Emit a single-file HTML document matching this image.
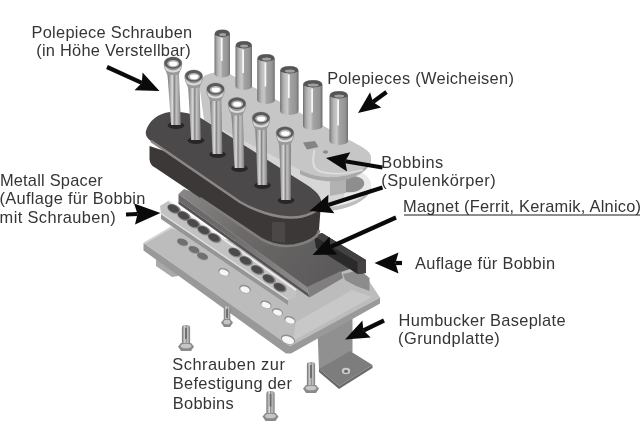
<!DOCTYPE html>
<html><head><meta charset="utf-8"><title>Humbucker</title>
<style>
html,body{margin:0;padding:0;background:#fff;}
body{width:640px;height:426px;overflow:hidden;font-family:"Liberation Sans",sans-serif;}
svg{display:block}
text{font-family:"Liberation Sans",sans-serif;font-size:16.4px;fill:#262626;}
</style></head><body>
<svg width="640" height="426" viewBox="0 0 640 426">
<defs>
<linearGradient id="gPole" x1="0" x2="1" y1="0" y2="0">
<stop offset="0" stop-color="#6c6c6c"/><stop offset="0.1" stop-color="#9a9a9a"/><stop offset="0.24" stop-color="#bababa"/><stop offset="0.4" stop-color="#c8c8c8"/><stop offset="0.52" stop-color="#a4a4a4"/><stop offset="0.85" stop-color="#949494"/><stop offset="1" stop-color="#707070"/>
</linearGradient>
<linearGradient id="gShaft" x1="0" x2="1" y1="0" y2="0">
<stop offset="0" stop-color="#6e6e6e"/><stop offset="0.22" stop-color="#b0b0b0"/><stop offset="0.38" stop-color="#dadada"/><stop offset="0.52" stop-color="#858585"/><stop offset="0.66" stop-color="#c2c2c2"/><stop offset="0.85" stop-color="#a0a0a0"/><stop offset="1" stop-color="#727272"/>
</linearGradient>
<linearGradient id="gMagTop" gradientUnits="userSpaceOnUse" x1="180" y1="190" x2="320" y2="285">
<stop offset="0" stop-color="#8a8787"/><stop offset="0.45" stop-color="#6c6969"/><stop offset="1" stop-color="#5c5a5a"/>
</linearGradient>
<linearGradient id="gMagFront" gradientUnits="userSpaceOnUse" x1="180" y1="200" x2="310" y2="292">
<stop offset="0" stop-color="#6a6868"/><stop offset="0.4" stop-color="#6e6c6c"/><stop offset="0.7" stop-color="#807e7e"/><stop offset="1" stop-color="#8e8c8c"/>
</linearGradient>
<filter id="soft" x="-5%" y="-5%" width="110%" height="110%"><feGaussianBlur stdDeviation="0.45"/></filter>
</defs>
<rect width="640" height="426" fill="#ffffff"/>
<g filter="url(#soft)">
<g id="baseplate">
<polygon points="317.5,330 352.5,318 352.5,352 319,370" fill="#909090"/>
<polygon points="319,369 350,351 372.5,365 339,386" fill="#7d7d7d"/>
<polygon points="319,369 339,386 339,389 319,372" fill="#666"/>
<polygon points="339,386 372.5,365 372.5,368 339,389" fill="#6c6c6c"/>
<ellipse cx="346" cy="371" rx="4.2" ry="3.2" fill="#c9c9c9"/><ellipse cx="346" cy="371.3" rx="2" ry="1.5" fill="#666"/>
<polygon points="156,256 178,270 178,276 172,277 156,266" fill="#a9a9a9"/>
<polygon points="143.5,243 143.5,250.5 286,353.5 291,353.5 380,303.5 380,297.5 290,345 Z" fill="#999999"/>
<path d="M143.5,243 L171,227 L180,229 L330,262 L365,275 L380,297.5 L290,346.5 Z" fill="#bcbcbc"/>
<path d="M144.5,243 L171,227.6 L180,229.5" stroke="#d6d6d6" stroke-width="2" fill="none"/>
<path d="M296,322 L352,290 L372,297 L293,341 Z" fill="#c8c8c8"/>
<ellipse cx="182.5" cy="242.8" rx="5.8" ry="3.4" fill="#a2a2a2" transform="rotate(20 182.5 242.8)"/>
<ellipse cx="182.5" cy="242.0" rx="5.6" ry="3.2" fill="#6f6f6f" transform="rotate(20 182.5 242.0)"/>
<ellipse cx="194.0" cy="250.3" rx="5.8" ry="3.4" fill="#a2a2a2" transform="rotate(20 194.0 250.3)"/>
<ellipse cx="194.0" cy="249.5" rx="5.6" ry="3.2" fill="#6f6f6f" transform="rotate(20 194.0 249.5)"/>
<ellipse cx="202.5" cy="256.8" rx="5.8" ry="3.4" fill="#a2a2a2" transform="rotate(20 202.5 256.8)"/>
<ellipse cx="202.5" cy="256.0" rx="5.6" ry="3.2" fill="#6f6f6f" transform="rotate(20 202.5 256.0)"/>
<ellipse cx="224.0" cy="272.0" rx="5.8" ry="3.8" fill="#8e8e8e" transform="rotate(20 224.0 272.0)"/>
<ellipse cx="224.0" cy="272.6" rx="4.8" ry="2.8" fill="#f6f6f6" transform="rotate(20 224.0 272.6)"/>
<ellipse cx="245.0" cy="289.0" rx="6.0" ry="4.0" fill="#8e8e8e" transform="rotate(20 245.0 289.0)"/>
<ellipse cx="245.0" cy="289.6" rx="5.0" ry="3.0" fill="#f6f6f6" transform="rotate(20 245.0 289.6)"/>
<ellipse cx="266.0" cy="304.5" rx="5.8" ry="3.8" fill="#8e8e8e" transform="rotate(20 266.0 304.5)"/>
<ellipse cx="266.0" cy="305.1" rx="4.8" ry="2.8" fill="#f6f6f6" transform="rotate(20 266.0 305.1)"/>
<ellipse cx="277.5" cy="312.0" rx="5.6" ry="3.7" fill="#8e8e8e" transform="rotate(20 277.5 312.0)"/>
<ellipse cx="277.5" cy="312.6" rx="4.6" ry="2.7" fill="#f6f6f6" transform="rotate(20 277.5 312.6)"/>
<ellipse cx="290.0" cy="320.0" rx="5.8" ry="3.8" fill="#8e8e8e" transform="rotate(20 290.0 320.0)"/>
<ellipse cx="290.0" cy="320.6" rx="4.8" ry="2.8" fill="#f6f6f6" transform="rotate(20 290.0 320.6)"/>
<ellipse cx="288.0" cy="339.5" rx="7.4" ry="4.6" fill="#8e8e8e" transform="rotate(20 288.0 339.5)"/>
<ellipse cx="288.0" cy="340.1" rx="6.4" ry="3.6" fill="#f6f6f6" transform="rotate(20 288.0 340.1)"/>
</g>
<g id="bars">
<polygon points="178.5,194 184,189 330,240 353,268 341,272 308,288" fill="url(#gMagTop)"/>
<polygon points="178.5,194 307,287 308.2,293.5 178.5,200.5" fill="url(#gMagFront)"/>
<polygon points="178.5,200.5 308.2,293.5 309.5,297.5 178.5,204" fill="#545252"/>
<polygon points="307,287 341,271 343,278 309.5,297.5" fill="#807e7e"/>
<polygon points="343,274 360,270 369.5,278 369.5,291 356,286 345,280" fill="#8c8c8c"/>
<polygon points="314,236 322,233 366,260 366,273 357.5,274 316,248" fill="#2b2929"/>
<polygon points="314,236 322,233 366,260 357.5,262" fill="#434040"/>
<polygon points="357.5,262 366,260 366,273 357.5,274" fill="#454343"/>
<polygon points="160,206 169,200.5 296,290 296,297 288,300 161,214" fill="#c2c2c2"/>
<polygon points="161,214 288,300 288,305 161,219" fill="#959595"/>
<path d="M169,201 L296,290" stroke="#ececec" stroke-width="1.8"/>
<path d="M161,213.5 L288,299.5" stroke="#dedede" stroke-width="1.5"/>
<ellipse cx="174.0" cy="209.0" rx="7.2" ry="4.4" fill="#858383" transform="rotate(25 174.0 209.0)"/>
<ellipse cx="173.5" cy="208.6" rx="6.0" ry="3.4" fill="#4c4a4a" transform="rotate(25 173.5 208.6)"/>
<ellipse cx="184.0" cy="216.0" rx="7.2" ry="4.4" fill="#858383" transform="rotate(25 184.0 216.0)"/>
<ellipse cx="183.5" cy="215.6" rx="6.0" ry="3.4" fill="#4c4a4a" transform="rotate(25 183.5 215.6)"/>
<ellipse cx="193.5" cy="223.5" rx="7.2" ry="4.4" fill="#858383" transform="rotate(25 193.5 223.5)"/>
<ellipse cx="193.0" cy="223.1" rx="6.0" ry="3.4" fill="#4c4a4a" transform="rotate(25 193.0 223.1)"/>
<ellipse cx="204.0" cy="230.5" rx="7.2" ry="4.4" fill="#858383" transform="rotate(25 204.0 230.5)"/>
<ellipse cx="203.5" cy="230.1" rx="6.0" ry="3.4" fill="#4c4a4a" transform="rotate(25 203.5 230.1)"/>
<ellipse cx="214.5" cy="238.0" rx="7.2" ry="4.4" fill="#858383" transform="rotate(25 214.5 238.0)"/>
<ellipse cx="214.0" cy="237.6" rx="6.0" ry="3.4" fill="#4c4a4a" transform="rotate(25 214.0 237.6)"/>
<ellipse cx="235.0" cy="252.5" rx="7.2" ry="4.4" fill="#858383" transform="rotate(25 235.0 252.5)"/>
<ellipse cx="234.5" cy="252.1" rx="6.0" ry="3.4" fill="#4c4a4a" transform="rotate(25 234.5 252.1)"/>
<ellipse cx="246.0" cy="261.0" rx="7.2" ry="4.4" fill="#858383" transform="rotate(25 246.0 261.0)"/>
<ellipse cx="245.5" cy="260.6" rx="6.0" ry="3.4" fill="#4c4a4a" transform="rotate(25 245.5 260.6)"/>
<ellipse cx="257.5" cy="270.0" rx="7.2" ry="4.4" fill="#858383" transform="rotate(25 257.5 270.0)"/>
<ellipse cx="257.0" cy="269.6" rx="6.0" ry="3.4" fill="#4c4a4a" transform="rotate(25 257.0 269.6)"/>
<ellipse cx="269.0" cy="279.0" rx="7.2" ry="4.4" fill="#858383" transform="rotate(25 269.0 279.0)"/>
<ellipse cx="268.5" cy="278.6" rx="6.0" ry="3.4" fill="#4c4a4a" transform="rotate(25 268.5 278.6)"/>
<ellipse cx="280.0" cy="287.5" rx="7.2" ry="4.4" fill="#858383" transform="rotate(25 280.0 287.5)"/>
<ellipse cx="279.5" cy="287.1" rx="6.0" ry="3.4" fill="#4c4a4a" transform="rotate(25 279.5 287.1)"/>
</g>
<g id="lightbobbin">
<path d="M300,172 L360,172 C369,176 372,182 371,187 C368,197 352,203 338,206 L300,212 Z" fill="#e9e9e9"/>
<path d="M330,207 C348,205 367,198 371,187 L371,190 C367,201 348,209 330,211 Z" fill="#bdbdbd"/>
<path d="M200,118 L300,168 L344,176 L344,200 L300,210 L200,140 Z" fill="#d6d6d6"/>
<path d="M344,176 C356,175 366,178 364,185 C361,192 352,193 344,192 Z" fill="#8e8e8e"/>
<path d="M330,176 L346,176 L346,193 L330,196 Z" fill="#b2b2b2"/>
<path d="M199,83 C201,75 212,70.5 228,73 L348,139.5 C361,146 371,151 371,157 C371,166 356,175 338,177 C325,178 312,176 300,170 L204,120 Z" fill="#c6c6c6"/>
<path d="M300,170 C312,176 325,178 338,177 C356,175 371,166 371,157 L371,160 C370,170 356,179 338,181 C325,182 312,180 300,174 Z" fill="#a9a9a9"/>
<path d="M314.5,150 C313,158 312,165 316,169 C322,174 340,176 363,170" stroke="#dedede" stroke-width="1.8" fill="none"/>
<polygon points="303,142.5 315,141 318.5,147 307,149.5" fill="#848484"/>
<ellipse cx="325.5" cy="152" rx="2.6" ry="1.7" fill="#8c8c8c"/>
</g>
<g id="poles">
<path d="M214.5,34.5 Q214.5,29.5 222.2,29.5 Q230.0,29.5 230.0,34.5 L230.0,73.5 Q230.0,77.0 222.2,77.5 Q214.5,77.0 214.5,73.5 Z" fill="url(#gPole)"/>
<path d="M214.8,35.0 Q214.8,29.8 222.2,29.8 Q229.7,29.8 229.7,35.0 Q222.2,39.0 214.8,35.0 Z" fill="#545454"/>
<ellipse cx="222.8" cy="34.5" rx="3.5" ry="1.5" fill="#a0a0a0"/>
<rect x="220.8" y="38.0" width="1.8" height="23.0" fill="#fafafa" opacity="0.95"/>
<path d="M235.5,46.0 Q235.5,41.0 243.8,41.0 Q252.0,41.0 252.0,46.0 L252.0,86.0 Q252.0,89.5 243.8,90.0 Q235.5,89.5 235.5,86.0 Z" fill="url(#gPole)"/>
<path d="M235.8,46.5 Q235.8,41.3 243.8,41.3 Q251.7,41.3 251.7,46.5 Q243.8,50.5 235.8,46.5 Z" fill="#545454"/>
<ellipse cx="244.2" cy="46.0" rx="4.0" ry="1.5" fill="#a0a0a0"/>
<rect x="242.2" y="49.5" width="1.8" height="23.5" fill="#fafafa" opacity="0.95"/>
<path d="M257.2,59.0 Q257.2,54.0 266.0,54.0 Q274.8,54.0 274.8,59.0 L274.8,100.0 Q274.8,103.5 266.0,104.0 Q257.2,103.5 257.2,100.0 Z" fill="url(#gPole)"/>
<path d="M257.6,59.5 Q257.6,54.3 266.0,54.3 Q274.4,54.3 274.4,59.5 Q266.0,63.5 257.6,59.5 Z" fill="#545454"/>
<ellipse cx="266.5" cy="59.0" rx="4.5" ry="1.5" fill="#a0a0a0"/>
<rect x="264.5" y="62.5" width="1.8" height="24.0" fill="#fafafa" opacity="0.95"/>
<path d="M280.1,71.0 Q280.1,66.0 289.4,66.0 Q298.6,66.0 298.6,71.0 L298.6,111.0 Q298.6,114.5 289.4,115.0 Q280.1,114.5 280.1,111.0 Z" fill="url(#gPole)"/>
<path d="M280.4,71.5 Q280.4,66.3 289.4,66.3 Q298.3,66.3 298.3,71.5 Q289.4,75.5 280.4,71.5 Z" fill="#545454"/>
<ellipse cx="289.9" cy="71.0" rx="5.0" ry="1.5" fill="#a0a0a0"/>
<rect x="287.9" y="74.5" width="1.8" height="23.5" fill="#fafafa" opacity="0.95"/>
<path d="M303.0,85.0 Q303.0,80.0 312.8,80.0 Q322.5,80.0 322.5,85.0 L322.5,126.0 Q322.5,129.5 312.8,130.0 Q303.0,129.5 303.0,126.0 Z" fill="url(#gPole)"/>
<path d="M303.3,85.5 Q303.3,80.3 312.8,80.3 Q322.2,80.3 322.2,85.5 Q312.8,89.5 303.3,85.5 Z" fill="#545454"/>
<ellipse cx="313.2" cy="85.0" rx="5.5" ry="1.5" fill="#a0a0a0"/>
<rect x="311.2" y="88.5" width="1.8" height="24.0" fill="#fafafa" opacity="0.95"/>
<path d="M329.5,96.0 Q329.5,91.0 338.8,91.0 Q348.0,91.0 348.0,96.0 L348.0,141.0 Q348.0,144.5 338.8,145.0 Q329.5,144.5 329.5,141.0 Z" fill="url(#gPole)"/>
<path d="M329.8,96.5 Q329.8,91.3 338.8,91.3 Q347.7,91.3 347.7,96.5 Q338.8,100.5 329.8,96.5 Z" fill="#545454"/>
<ellipse cx="339.2" cy="96.0" rx="5.0" ry="1.5" fill="#a0a0a0"/>
<rect x="337.2" y="99.5" width="1.8" height="26.0" fill="#fafafa" opacity="0.95"/>
</g>
<g id="darkbobbin">
<path d="M149.5,146 L149.5,159 C150,164 152,166 155,167.5 L262,239.5 C272,245 282,247 294,245.5 C308,243 319,237 319,230 L321,203 Z" fill="#3d3939"/>
<path d="M200,198 L262,239.5 C272,245 282,247 294,245.5 C308,243 319,237 319,230" stroke="#827e7e" stroke-width="2.6" fill="none"/>
<polygon points="272,222 285,222 285,243 272,241" fill="#4b4747"/>
<path d="M146,131 C148,122 158,113 170,112 C185,111 196,115 204,120 L307,185 C316,191 322,197 321,203 C320,211 306,218 290,217.5 C275,217 255,211 240,202 L151,141 C147,138 145,135 146,131 Z" fill="#4c4848"/>
<path d="M151,141 L240,202 C255,211 275,217 290,217.5 C306,218 320,211 321,203" stroke="#8b8787" stroke-width="2.6" fill="none"/>
</g>
<g id="screws">
<ellipse cx="176.0" cy="125.5" rx="8.3" ry="3.4" fill="#2b2828"/>
<path d="M167.2,70.0 L171.1,125.0 L180.9,125.0 L178.8,70.0 Z" fill="url(#gShaft)"/>
<path d="M163.8,63.5 C163.8,54.5 182.2,54.5 182.2,63.5 C182.2,69.0 179.8,71.0 178.8,75.0 L167.2,75.0 C166.2,71.0 163.8,69.0 163.8,63.5 Z" fill="#9a9a9a"/>
<path d="M164.6,66.0 Q173.0,75.0 181.4,66.0 L179.8,70.5 Q173.0,74.5 166.2,70.5 Z" fill="#dcdcdc"/>
<ellipse cx="173.0" cy="62.9" rx="8.7" ry="5.9" fill="#5a5a5a"/>
<ellipse cx="173.2" cy="63.6" rx="6.0" ry="3.7" fill="#b4b4b4"/>
<ellipse cx="173.3" cy="63.8" rx="4.2" ry="2.4" fill="#ffffff"/>
<ellipse cx="196.0" cy="140.5" rx="8.3" ry="3.4" fill="#2b2828"/>
<path d="M188.0,83.0 L191.1,140.0 L200.9,140.0 L199.5,83.0 Z" fill="url(#gShaft)"/>
<path d="M184.5,76.5 C184.5,67.5 203.0,67.5 203.0,76.5 C203.0,82.0 200.5,84.0 199.5,88.0 L188.0,88.0 C187.0,84.0 184.5,82.0 184.5,76.5 Z" fill="#9a9a9a"/>
<path d="M185.3,79.0 Q193.8,88.0 202.2,79.0 L200.5,83.5 Q193.8,87.5 187.0,83.5 Z" fill="#dcdcdc"/>
<ellipse cx="193.8" cy="75.9" rx="8.7" ry="5.9" fill="#5a5a5a"/>
<ellipse cx="193.9" cy="76.6" rx="6.0" ry="3.7" fill="#b4b4b4"/>
<ellipse cx="194.1" cy="76.8" rx="4.2" ry="2.4" fill="#ffffff"/>
<ellipse cx="217.5" cy="154.5" rx="8.3" ry="3.4" fill="#2b2828"/>
<path d="M209.8,96.0 L212.6,154.0 L222.4,154.0 L221.2,96.0 Z" fill="url(#gShaft)"/>
<path d="M206.2,89.5 C206.2,80.5 224.8,80.5 224.8,89.5 C224.8,95.0 222.2,97.0 221.2,101.0 L209.8,101.0 C208.8,97.0 206.2,95.0 206.2,89.5 Z" fill="#9a9a9a"/>
<path d="M207.1,92.0 Q215.5,101.0 223.9,92.0 L222.2,96.5 Q215.5,100.5 208.8,96.5 Z" fill="#dcdcdc"/>
<ellipse cx="215.5" cy="88.9" rx="8.7" ry="5.9" fill="#5a5a5a"/>
<ellipse cx="215.7" cy="89.6" rx="6.0" ry="3.7" fill="#b4b4b4"/>
<ellipse cx="215.8" cy="89.8" rx="4.2" ry="2.4" fill="#ffffff"/>
<ellipse cx="239.5" cy="168.5" rx="8.3" ry="3.4" fill="#2b2828"/>
<path d="M231.2,110.5 L234.6,168.0 L244.4,168.0 L242.8,110.5 Z" fill="url(#gShaft)"/>
<path d="M227.8,104.0 C227.8,95.0 246.2,95.0 246.2,104.0 C246.2,109.5 243.8,111.5 242.8,115.5 L231.2,115.5 C230.2,111.5 227.8,109.5 227.8,104.0 Z" fill="#9a9a9a"/>
<path d="M228.6,106.5 Q237.0,115.5 245.4,106.5 L243.8,111.0 Q237.0,115.0 230.2,111.0 Z" fill="#dcdcdc"/>
<ellipse cx="237.0" cy="103.4" rx="8.7" ry="5.9" fill="#5a5a5a"/>
<ellipse cx="237.2" cy="104.1" rx="6.0" ry="3.7" fill="#b4b4b4"/>
<ellipse cx="237.3" cy="104.3" rx="4.2" ry="2.4" fill="#ffffff"/>
<ellipse cx="262.5" cy="185.5" rx="8.3" ry="3.4" fill="#2b2828"/>
<path d="M255.2,125.0 L257.6,185.0 L267.4,185.0 L266.8,125.0 Z" fill="url(#gShaft)"/>
<path d="M251.8,118.5 C251.8,109.5 270.2,109.5 270.2,118.5 C270.2,124.0 267.8,126.0 266.8,130.0 L255.2,130.0 C254.2,126.0 251.8,124.0 251.8,118.5 Z" fill="#9a9a9a"/>
<path d="M252.6,121.0 Q261.0,130.0 269.4,121.0 L267.8,125.5 Q261.0,129.5 254.2,125.5 Z" fill="#dcdcdc"/>
<ellipse cx="261.0" cy="117.9" rx="8.7" ry="5.9" fill="#5a5a5a"/>
<ellipse cx="261.2" cy="118.6" rx="6.0" ry="3.7" fill="#b4b4b4"/>
<ellipse cx="261.3" cy="118.8" rx="4.2" ry="2.4" fill="#ffffff"/>
<ellipse cx="286.0" cy="200.5" rx="8.3" ry="3.4" fill="#2b2828"/>
<path d="M279.2,139.8 L281.1,200.0 L290.9,200.0 L290.8,139.8 Z" fill="url(#gShaft)"/>
<path d="M275.8,133.2 C275.8,124.2 294.2,124.2 294.2,133.2 C294.2,138.8 291.8,140.8 290.8,144.8 L279.2,144.8 C278.2,140.8 275.8,138.8 275.8,133.2 Z" fill="#9a9a9a"/>
<path d="M276.6,135.8 Q285.0,144.8 293.4,135.8 L291.8,140.2 Q285.0,144.2 278.2,140.2 Z" fill="#dcdcdc"/>
<ellipse cx="285.0" cy="132.7" rx="8.7" ry="5.9" fill="#5a5a5a"/>
<ellipse cx="285.2" cy="133.3" rx="6.0" ry="3.7" fill="#b4b4b4"/>
<ellipse cx="285.3" cy="133.6" rx="4.2" ry="2.4" fill="#ffffff"/>
</g>
<g id="smallscrews">
<rect x="181.9" y="325.0" width="8.2" height="21.0" rx="3" fill="url(#gShaft)"/>
<rect x="185.1" y="328.0" width="1.8" height="10.9" fill="#6a6a6a"/>
<path d="M178.0,346.5 L181.0,343.0 L191.0,343.0 L194.0,346.5 L191.0,351.0 L181.0,351.0 Z" fill="#8a8a8a"/>
<ellipse cx="186.0" cy="346.0" rx="5.5" ry="2.3" fill="#c6c6c6"/>
<rect x="223.8" y="306.0" width="6.5" height="16.0" rx="3" fill="url(#gShaft)"/>
<rect x="226.1" y="309.0" width="1.8" height="8.8" fill="#6a6a6a"/>
<path d="M221.0,322.5 L224.0,319.0 L230.0,319.0 L233.0,322.5 L230.0,327.0 L224.0,327.0 Z" fill="#8a8a8a"/>
<ellipse cx="227.0" cy="322.0" rx="3.5" ry="2.3" fill="#c6c6c6"/>
<rect x="306.9" y="362.0" width="8.2" height="26.0" rx="3" fill="url(#gShaft)"/>
<rect x="310.1" y="365.0" width="1.8" height="13.0" fill="#6a6a6a"/>
<path d="M303.0,388.5 L306.0,385.0 L316.0,385.0 L319.0,388.5 L316.0,393.0 L306.0,393.0 Z" fill="#8a8a8a"/>
<ellipse cx="311.0" cy="388.0" rx="5.5" ry="2.3" fill="#c6c6c6"/>
<rect x="266.4" y="391.0" width="8.2" height="25.0" rx="3" fill="url(#gShaft)"/>
<rect x="269.6" y="394.0" width="1.8" height="12.6" fill="#6a6a6a"/>
<path d="M262.5,416.5 L265.5,413.0 L275.5,413.0 L278.5,416.5 L275.5,421.0 L265.5,421.0 Z" fill="#8a8a8a"/>
<ellipse cx="270.5" cy="416.0" rx="5.5" ry="2.3" fill="#c6c6c6"/>
</g>
</g>
<g>
<line x1="107.0" y1="67.0" x2="141.8" y2="82.9" stroke="#0a0a0a" stroke-width="4.2"/><polygon points="159.5,91.0 134.5,90.3 141.8,82.9 142.6,72.6" fill="#0a0a0a"/>
<line x1="386.5" y1="92.0" x2="372.9" y2="102.0" stroke="#0a0a0a" stroke-width="4.2"/><polygon points="358.0,113.0 370.1,92.3 372.9,102.0 381.3,107.6" fill="#0a0a0a"/>
<line x1="382.5" y1="167.5" x2="345.2" y2="161.2" stroke="#0a0a0a" stroke-width="4.2"/><polygon points="326.0,158.0 350.3,152.2 345.2,161.2 347.1,171.4" fill="#0a0a0a"/>
<line x1="382.5" y1="187.5" x2="328.1" y2="205.0" stroke="#0a0a0a" stroke-width="4.2"/><polygon points="309.5,211.0 328.4,194.7 328.1,205.0 334.4,213.2" fill="#0a0a0a"/>
<line x1="396.0" y1="217.5" x2="330.3" y2="247.0" stroke="#0a0a0a" stroke-width="4.2"/><polygon points="312.5,255.0 329.5,236.7 330.3,247.0 337.5,254.5" fill="#0a0a0a"/>
<line x1="402.0" y1="263.0" x2="395.5" y2="263.0" stroke="#0a0a0a" stroke-width="4.2"/><polygon points="374.5,263.0 398.5,252.5 395.5,263.0 398.5,273.5" fill="#0a0a0a"/>
<line x1="384.0" y1="320.5" x2="363.4" y2="330.5" stroke="#0a0a0a" stroke-width="4.2"/><polygon points="345.0,339.5 362.4,320.4 363.4,330.5 370.7,337.5" fill="#0a0a0a"/>
<line x1="126.0" y1="214.5" x2="137.5" y2="214.0" stroke="#0a0a0a" stroke-width="4.2"/><polygon points="160.5,213.0 135.0,224.6 137.5,214.0 134.1,203.6" fill="#0a0a0a"/>
</g>
<line x1="404" y1="215" x2="640" y2="215" stroke="#1c1c1c" stroke-width="1"/>
<g opacity="0.93">
<text x="31.50" y="38.1" textLength="160.70" lengthAdjust="spacing">Polepiece Schrauben</text>
<text x="36.20" y="55.8" textLength="154.50" lengthAdjust="spacing">(in Höhe Verstellbar)</text>
<text x="327.20" y="84.4" textLength="186.70" lengthAdjust="spacing">Polepieces (Weicheisen)</text>
<text x="381.30" y="167.5" textLength="61.95" lengthAdjust="spacing">Bobbins</text>
<text x="381.30" y="186.2" textLength="114.45" lengthAdjust="spacing">(Spulenkörper)</text>
<text x="403.05" y="212.4" textLength="238.00" lengthAdjust="spacing">Magnet (Ferrit, Keramik, Alnico)</text>
<text x="415.05" y="268.7" textLength="139.95" lengthAdjust="spacing">Auflage für Bobbin</text>
<text x="398.60" y="326.2" textLength="166.90" lengthAdjust="spacing">Humbucker Baseplate</text>
<text x="398.10" y="344.4" textLength="101.60" lengthAdjust="spacing">(Grundplatte)</text>
<text x="-0.10" y="186.1" textLength="102.80" lengthAdjust="spacing">Metall Spacer</text>
<text x="-0.40" y="204.4" textLength="145.80" lengthAdjust="spacing">(Auflage für Bobbin</text>
<text x="-0.40" y="223.2" textLength="116.20" lengthAdjust="spacing">mit Schrauben)</text>
<text x="172.30" y="370.3" textLength="112.60" lengthAdjust="spacing">Schrauben zur</text>
<text x="172.80" y="389.4" textLength="119.20" lengthAdjust="spacing">Befestigung der</text>
<text x="172.80" y="408.6" textLength="60.90" lengthAdjust="spacing">Bobbins</text>
</g>
</svg>
</body></html>
